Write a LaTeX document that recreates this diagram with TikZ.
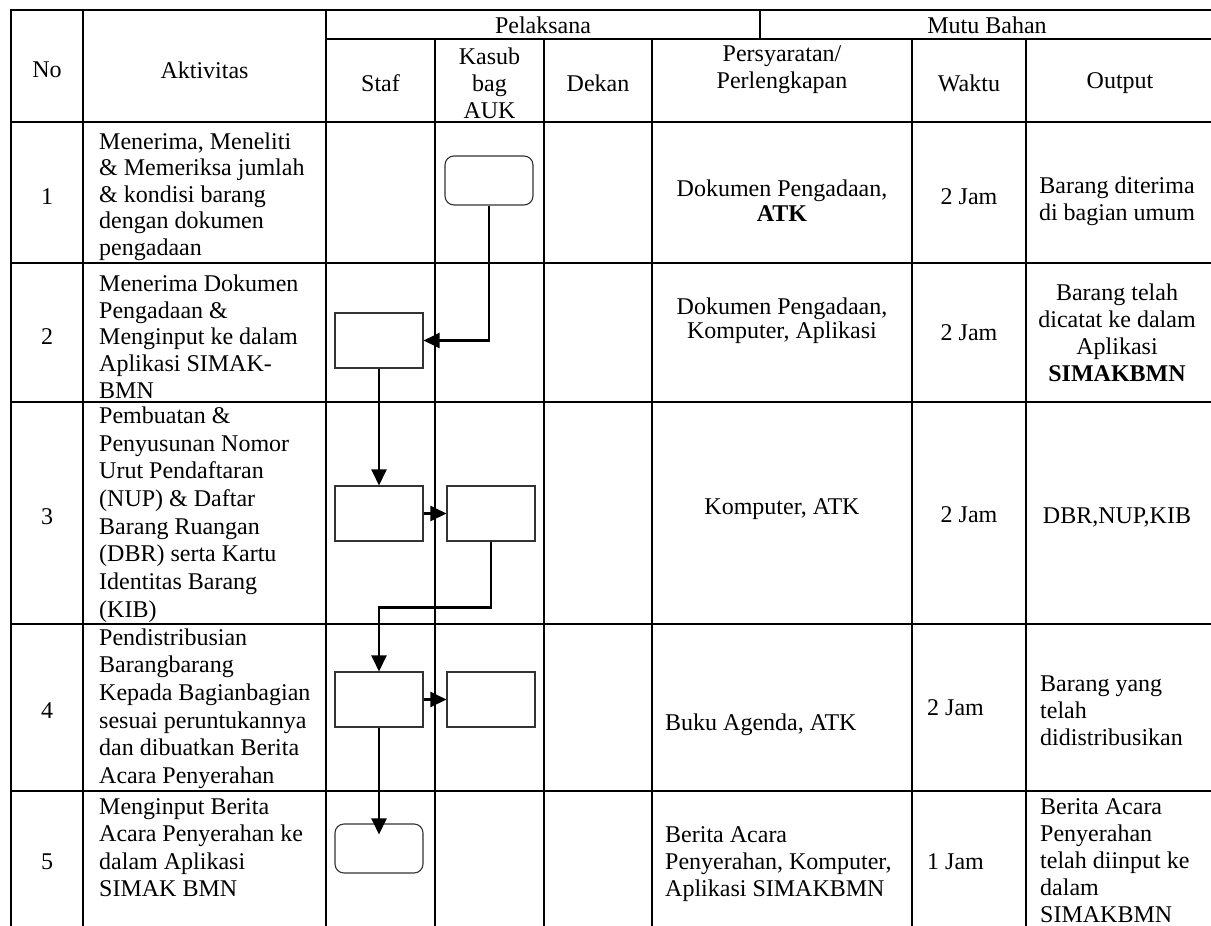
\documentclass[tikz,border=0pt]{standalone}
\usepackage{fontspec}
\setmainfont{Liberation Serif}
\usetikzlibrary{arrows.meta}
\begin{document}
\begin{tikzpicture}[x=1pt,y=-1pt,
  tbl/.style={line width=2.4pt, line cap=rect},
  txt/.style={font=\fontsize{24}{27}\selectfont, inner sep=0pt},
  cel/.style={txt, align=center},
  lft/.style={txt, align=left},
  flowbox/.style={draw=black!80, fill=white, line width=1.1pt, minimum width=88pt, minimum height=55pt, inner sep=0pt},
  rbox/.style={flowbox, rounded corners=9pt, minimum height=49pt},
  conn/.style={line width=2.4pt, -{Triangle[length=16pt,width=15pt]}}]
\useasboundingbox (0,0) rectangle (1211,926);
\clip (0,0) rectangle (1211,926);
\fill[white] (0,0) rectangle (1211,926);
% table grid
\draw[tbl] (11,10) -- (1230,10);
\draw[tbl] (326,39) -- (1230,39);
\foreach \yy in {122,263,402,624,791} \draw[tbl] (11,\yy) -- (1230,\yy);
\foreach \xx in {11,83,326} \draw[tbl] (\xx,10) -- (\xx,940);
\foreach \xx in {435,544,652,912,1026} \draw[tbl] (\xx,39) -- (\xx,940);
\draw[tbl] (760,10) -- (760,39);
\draw[tbl] (1214,10) -- (1214,940);
% header
\node[txt] (hno) at (47,70) {No};
\node[txt] (hakt) at (204.5,70) {Aktivitas};
\node[txt] (hpel) at (543,25) {Pelaksana};
\node[txt] (hmutu) at (987,25.5) {Mutu Bahan};
\node[txt] (hstaf) at (380.5,83) {Staf};
\node[cel] (hkas) at (489.5,83) {Kasub\\bag\\AUK};
\node[txt] (hdek) at (598,83) {Dekan};
\node[cel] (hpers) at (782,70) {Persyaratan/\\Perlengkapan};
\node[txt] (hwak) at (969,83) {Waktu};
\node[txt] (hout) at (1120,83) {Output};
% numbers
\node[txt] (n1) at (47,197) {1};
\node[txt] (n2) at (47,337) {2};
\node[txt] (n3) at (47,517) {3};
\node[txt] (n4) at (47,711) {4};
\node[txt] (n5) at (47,862) {5};
% activities
\node[lft, anchor=north west, font=\fontsize{24}{26.5}\selectfont] (a1) at (99,132.5) {Menerima, Meneliti\\\& Memeriksa jumlah\\\& kondisi barang\\dengan dokumen\\pengadaan};
\node[lft, anchor=north west, font=\fontsize{24}{26.75}\selectfont] (a2) at (99,274.5) {Menerima Dokumen\\Pengadaan \&\\Menginput ke dalam\\Aplikasi SIMAK-\\BMN};
\node[lft, anchor=north west, font=\fontsize{24}{27.7}\selectfont] (a3) at (99,406.5) {Pembuatan \&\\Penyusunan Nomor\\Urut Pendaftaran\\(NUP) \& Daftar\\Barang Ruangan\\(DBR) serta Kartu\\Identitas Barang\\(KIB)};
\node[lft, anchor=north west, font=\fontsize{24}{27.6}\selectfont] (a4) at (99,628.5) {Pendistribusian\\Barangbarang\\Kepada Bagianbagian\\sesuai peruntukannya\\dan dibuatkan Berita\\Acara Penyerahan};
\node[lft, anchor=north west, font=\fontsize{24}{27.3}\selectfont] (a5) at (99,798.5) {Menginput Berita\\Acara Penyerahan ke\\dalam Aplikasi\\SIMAK BMN};
% requirements
\node[cel, font=\fontsize{24}{25}\selectfont] (p1) at (782,201) {Dokumen Pengadaan,\\\textbf{ATK}};
\node[cel, font=\fontsize{24}{24}\selectfont] (p2) at (782,321) {Dokumen Pengadaan,\\Komputer, Aplikasi};
\node[txt] (p3) at (782,509) {Komputer, ATK};
\node[txt, anchor=west] (p4) at (665,725) {Buku Agenda, ATK};
\node[lft, anchor=west] (p5) at (665,864) {Berita Acara\\Penyerahan, Komputer,\\Aplikasi SIMAKBMN};
% time
\node[txt] (w1) at (969,197) {2 Jam};
\node[txt] (w2) at (969,333) {2 Jam};
\node[txt] (w3) at (969,515) {2 Jam};
\node[txt, anchor=west] (w4) at (927,708) {2 Jam};
\node[txt, anchor=west] (w5) at (927,862) {1 Jam};
% output
\node[cel] (o1) at (1117,201) {Barang diterima\\di bagian umum};
\node[cel] (o2) at (1117,333) {Barang telah\\dicatat ke dalam\\Aplikasi\\\textbf{SIMAKBMN}};
\node[txt] (o3) at (1117,517) {DBR,NUP,KIB};
\node[lft, anchor=west] (o4) at (1040,711) {Barang yang\\telah\\didistribusikan};
\node[lft, anchor=west] (o5) at (1040,861) {Berita Acara\\Penyerahan\\telah diinput ke\\dalam\\SIMAKBMN};
% flow shapes
\node[rbox] (r1) at (489,180.5) {};
\node[flowbox] (s2) at (379,340.5) {};
\node[flowbox] (s3) at (379,513.5) {};
\node[flowbox] (k3) at (491,513.5) {};
\node[flowbox] (s4) at (379,699.5) {};
\node[flowbox] (k4) at (491,699.5) {};
\node[rbox] (r5) at (379,848.5) {};
% connectors
\draw[conn] (r1.south) |- (s2.east);
\draw[conn] (s2.south) -- (s3.north);
\draw[conn] (s3.east) -- (k3.west);
\draw[conn] (k3.south) -- ++(0,66) -| (s4.north);
\draw[conn] (s4.east) -- (k4.west);
\draw[conn] (s4.south) -- ([yshift=-11pt]r5.north);
\end{tikzpicture}
\end{document}
